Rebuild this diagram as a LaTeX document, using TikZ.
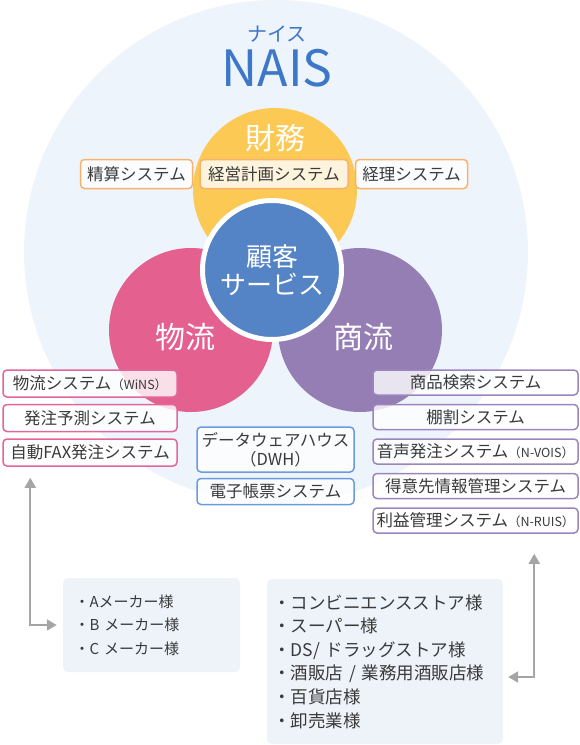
\documentclass[tikz,border=0pt]{standalone}
\usepackage{fontspec}
\setmainfont{Noto Sans CJK JP}
\usetikzlibrary{arrows.meta,positioning}
\definecolor{naisbg}{RGB}{238,244,251}
\definecolor{naisblue}{RGB}{61,119,201}
\definecolor{finyellow}{RGB}{253,201,85}
\definecolor{logpink}{RGB}{228,96,142}
\definecolor{compurple}{RGB}{149,126,180}
\definecolor{custblue}{RGB}{84,132,198}
\definecolor{finorange}{RGB}{248,178,108}
\definecolor{logborder}{RGB}{227,101,154}
\definecolor{comborder}{RGB}{156,133,191}
\definecolor{dwhblue}{RGB}{106,156,220}
\definecolor{textgray}{RGB}{58,58,58}
\definecolor{clientbg}{RGB}{238,243,250}
\definecolor{arrowgray}{RGB}{165,165,165}

\begin{document}
\begin{tikzpicture}[x=1pt,y=-1pt,node distance=6pt,
    sysbox/.style={draw,line width=1.5pt,rounded corners=4pt,fill=white,fill opacity=0.8,text opacity=1,text=textgray,minimum height=27pt,inner xsep=2pt,inner ysep=0pt,font=\fontsize{16.5}{19}\selectfont},
    ring/.style={circle,inner sep=0pt,minimum size=164pt},
    ringlabel/.style={text=white,font=\fontsize{30}{30}\selectfont},
    client/.style={fill=clientbg,rounded corners=5pt,align=left,text=textgray,inner ysep=0pt},
    link/.style={draw=arrowgray,line width=2pt,{Triangle[length=10pt,width=11pt]}-{Triangle[length=10pt,width=11pt]}}]
  \useasboundingbox (0,0) rectangle (580,745);
  % circles
  \node[ring,minimum size=504pt,fill=naisbg] (nais) at (276,252) {};
  \node[text=naisblue,font=\fontsize{20}{20}\selectfont] (kana) at (277,34) {ナイス};
  \node[text=naisblue,font=\fontsize{50}{50}\selectfont] (title) at (277,68) {NAIS};
  \node[ring,fill=finyellow] (zaimu) at (275,190) {};
  \node[ring,fill=logpink] (butsuryu) at (191,330) {};
  \node[ring,fill=compurple] (shoryu) at (360,330) {};
  \node[ring,fill=custblue,draw=white,line width=5pt,minimum size=139pt] (kokyaku) at (272,270) {};
  \node[ringlabel] (zaimulbl) at ([yshift=52pt]zaimu.center) {財務};
  \node[ringlabel] (butsuryulbl) at ([shift={(-6,7)}]butsuryu.center) {物流};
  \node[ringlabel] (shoryulbl) at ([shift={(3,7)}]shoryu.center) {商流};
  \node[text=white,align=center,font=\fontsize{26}{28}\selectfont] (kokyakulbl) at (kokyaku) {顧客\\サービス};
  % finance
  \node[sysbox,draw=finorange,minimum width=148pt,minimum height=29pt] (keiei) at (274,174) {経営計画システム};
  \node[sysbox,draw=finorange,minimum width=112pt,minimum height=29pt,left=6pt of keiei] (seisan) {精算システム};
  \node[sysbox,draw=finorange,minimum width=112pt,minimum height=29pt,right=6pt of keiei] (keiri) {経理システム};
  % logistics
  \node[sysbox,draw=logborder,minimum width=174pt] (wins) at (90,383.5) {物流システム{\fontsize{12.5}{14}\selectfont（WiNS）}};
  \node[sysbox,draw=logborder,minimum width=174pt,below=of wins] (yosoku) {発注予測システム};
  \node[sysbox,draw=logborder,minimum width=174pt,below=of yosoku] (fax) {自動FAX発注システム};
  % commerce
  \node[sysbox,draw=comborder,minimum width=205pt,minimum height=25pt] (kensaku) at (475.5,382.5) {商品検索システム};
  \node[sysbox,draw=comborder,minimum width=205pt,minimum height=25pt,below=8pt of kensaku] (tanawari) {棚割システム};
  \node[sysbox,draw=comborder,minimum width=205pt,minimum height=25pt,below=8pt of tanawari] (onsei) {音声発注システム{\fontsize{12.5}{14}\selectfont（N-VOIS）}};
  \node[sysbox,draw=comborder,minimum width=205pt,minimum height=25pt,below=8pt of onsei] (tokui) {得意先情報管理システム};
  \node[sysbox,draw=comborder,minimum width=205pt,minimum height=25pt,below=8pt of tokui] (rieki) {利益管理システム{\fontsize{12.5}{14}\selectfont（N-RUIS）}};
  % customer service
  \node[sysbox,draw=dwhblue,minimum width=157pt,minimum height=45pt,align=center] (dwh) at (275.5,449.5) {データウェアハウス\\（DWH）};
  \node[sysbox,draw=dwhblue,minimum width=157pt,minimum height=26pt,below=5pt of dwh] (chohyo) {電子帳票システム};
  % clients
  \node[client,minimum height=94pt,inner xsep=11.5pt,text width=154pt,font=\fontsize{15}{23.5}\selectfont] (maker) at (151.5,625) {・Aメーカー様\\・B メーカー様\\・C メーカー様};
  \node[client,minimum height=165pt,inner xsep=6.25pt,text width=223.5pt,font=\fontsize{17.5}{23.6}\selectfont] (retail) at (385,661.5) {・コンビニエンスストア様\\・スーパー様\\・DS/ ドラッグストア様\\・酒販店 / 業務用酒販店様\\・百貨店様\\・卸売業様};
  \draw[link] ([shift={(28,11)}]fax.south west) |- ([xshift=-6pt]maker.west);
  \draw[link] ([shift={(162,20)}]rieki.south west) |- ([shift={(5,15.5)}]retail.east);
\end{tikzpicture}
\end{document}
